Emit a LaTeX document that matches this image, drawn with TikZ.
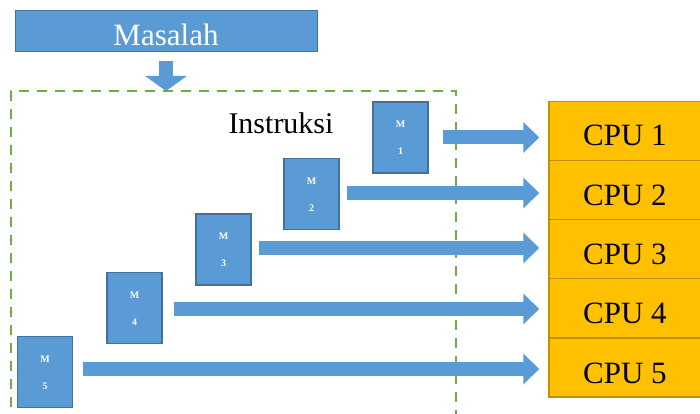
\documentclass[tikz,border=0pt]{standalone}
\usepackage{fontspec}
\setmainfont{Liberation Serif}
\usetikzlibrary{arrows.meta}
\definecolor{mblue}{HTML}{5B9BD5}
\definecolor{mblueD}{HTML}{41719C}
\definecolor{cpuF}{HTML}{FFC000}
\definecolor{cpuD}{HTML}{BF9000}
\definecolor{dgreen}{HTML}{70AD47}
\begin{document}
\begin{tikzpicture}[x=1pt,y=-1pt,
  mbox/.style={draw=mblueD,fill=mblue,line width=1.2pt,minimum width=55pt,minimum height=71pt,inner sep=0pt},
  mtext/.style={text=white,font=\fontsize{10}{11}\selectfont\bfseries,inner sep=0pt},
  cpubox/.style={draw=cpuD,fill=cpuF,line width=1.5pt,minimum width=156pt,minimum height=59pt,inner sep=0pt,font=\fontsize{31}{34}\selectfont,text=black},
  bigarrow/.style={draw=mblue,line width=14pt,-{Triangle[length=16pt,width=30pt]},fill=mblue},
  downarrow/.style={draw=mblue,line width=14pt,-{Triangle[length=15pt,width=41pt]},fill=mblue}]
\useasboundingbox (0,0) rectangle (700,414);
% dashed frame
\draw[dgreen,line width=1.3pt,dash pattern=on 10pt off 8pt] (456,420) -- (456,91) -- (11,91) -- (11,420);
% Masalah
\node[draw=mblueD,fill=mblue,line width=1pt,minimum width=302pt,minimum height=41pt,inner sep=0pt,
  text=white,font=\fontsize{31}{34}\selectfont] (mas) at (166,31.5) {\raisebox{-14pt}[0pt][0pt]{Masalah}};
\coordinate (top) at (166,91);
\draw[downarrow] ([yshift=-9pt]mas.south) -- (top);
\node[font=\fontsize{30}{34}\selectfont,inner sep=0pt] (ins) at (281,123) {Instruksi};
% CPUs
\node[cpubox] (c1) at (627,131) {\hspace*{-4pt}\raisebox{-15pt}[0pt][0pt]{CPU 1}};
\node[cpubox] (c2) at (627,190) {\hspace*{-4pt}\raisebox{-15pt}[0pt][0pt]{CPU 2}};
\node[cpubox] (c3) at (627,249) {\hspace*{-4pt}\raisebox{-15pt}[0pt][0pt]{CPU 3}};
\node[cpubox] (c4) at (627,308) {\hspace*{-4pt}\raisebox{-15pt}[0pt][0pt]{CPU 4}};
\node[cpubox] (c5) at (627,367.5) {\hspace*{-4pt}\raisebox{-16pt}[0pt][0pt]{CPU 5}};
% M boxes
\node[mbox] (m1) at (400.5,137.5) {};
\node[mbox] (m2) at (311.5,194) {};
\node[mbox] (m3) at (223.5,249.5) {};
\node[mbox] (m4) at (134.5,308) {};
\node[mbox] (m5) at (45,372) {};
\foreach \i in {1,...,5}{
  \node[mtext] (mt\i) at ([yshift=13pt]m\i.center) {M};
  \node[mtext] (mn\i) at ([yshift=-14pt]m\i.center) {\i};
}
% arrows
\draw[bigarrow] ([xshift=14pt,yshift=0pt]m1.east) -- ([xshift=-9pt]m1.east -| c1.west);
\draw[bigarrow] ([xshift=7pt,yshift=1pt]m2.east) -- ([xshift=-9pt,yshift=1pt]m2.east -| c2.west);
\draw[bigarrow] ([xshift=7pt,yshift=1.5pt]m3.east) -- ([xshift=-9pt,yshift=1.5pt]m3.east -| c3.west);
\draw[bigarrow] ([xshift=11pt,yshift=-1pt]m4.east) -- ([xshift=-9pt,yshift=-1pt]m4.east -| c4.west);
\draw[bigarrow] ([xshift=10pt,yshift=3pt]m5.east) -- ([xshift=-9pt,yshift=3pt]m5.east -| c5.west);
\end{tikzpicture}
\end{document}
